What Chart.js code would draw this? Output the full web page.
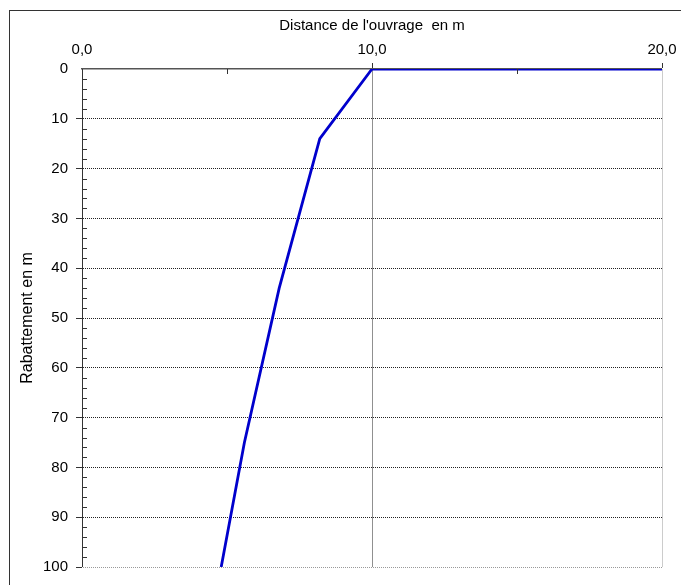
<!DOCTYPE html>
<html>
<head>
<meta charset="utf-8">
<script src="https://cdn.jsdelivr.net/npm/chart.js@4.4.1/dist/chart.umd.min.js"></script>
<style>
  html, body { margin: 0; padding: 0; background: #fff; overflow: hidden; }
  #wrap { position: relative; width: 681px; height: 585px; }
  #frame { position: absolute; left: 9px; top: 10px; width: 700px; height: 600px; border: 1px solid #333; box-sizing: border-box; pointer-events: none; }
  canvas { position: absolute; left: 0; top: 0; }
</style>
</head>
<body>
<div id="wrap">
  <canvas id="c" width="681" height="585"></canvas>
  <div id="frame"></div>
</div>
<script>
// Data
const distance = [20, 10, 8.2, 6.8, 5.6, 4.8];      // Distance de l'ouvrage (m)
const rabattement = [0, 0, 14, 44, 75, 100];          // Rabattement (m)
const xTicks = [0, 10, 20];
const yTicks = [0, 10, 20, 30, 40, 50, 60, 70, 80, 90, 100];
const xMinor = [5, 15];
const yMinor = [2,4,6,8,12,14,16,18,22,24,26,28,32,34,36,38,42,44,46,48,52,54,56,58,62,64,66,68,72,74,76,78,82,84,86,88,92,94,96,98];

const FONT = 'Liberation Sans, Arial, sans-serif';

const minorTicks = {
  id: 'minorTicks',
  afterDraw(chart) {
    const ctx = chart.ctx;
    const xs = chart.scales.x, ys = chart.scales.y;
    const a = chart.chartArea;
    ctx.save();
    ctx.strokeStyle = '#333';
    ctx.lineWidth = 1;
    ctx.beginPath();
    yMinor.forEach(v => {
      const py = Math.round(ys.getPixelForValue(v)) + 0.5;
      ctx.moveTo(a.left, py); ctx.lineTo(a.left + 5, py);
    });
    xMinor.forEach(v => {
      const px = Math.round(xs.getPixelForValue(v)) + 0.5;
      ctx.moveTo(px, a.top); ctx.lineTo(px, a.top + 5);
    });
    ctx.stroke();
    ctx.restore();
  }
};

new Chart(document.getElementById('c'), {
  type: 'line',
  data: {
    datasets: [{
      data: distance.map((d, i) => ({ x: d, y: rabattement[i] })),
      borderColor: '#0000CC',
      borderWidth: 2.8,
      pointRadius: 0,
      tension: 0,
      fill: false
    }]
  },
  options: {
    responsive: false,
    animation: false,
    layout: { padding: { left: 0, top: 0, right: 19, bottom: 18 } },
    plugins: { legend: { display: false }, tooltip: { enabled: false } },
    scales: {
      x: {
        type: 'linear',
        position: 'top',
        min: 0, max: 20,
        afterBuildTicks: s => { s.ticks = xTicks.map(v => ({ value: v })); },
        afterFit: s => { s.height = 69; },
        ticks: {
          color: '#000',
          font: { family: FONT, size: 15 },
          padding: 4,
          maxRotation: 0,
          callback: v => v.toFixed(1).replace('.', ',')
        },
        grid: {
          color: ctx => (ctx.tick && ctx.tick.value === 20) ? '#999' : '#222',
          lineWidth: ctx => (ctx.tick && ctx.tick.value === 0) ? 0 : 1,
          tickLength: 6,
          tickColor: '#333',
          tickBorderDash: []
        },
        border: { display: true, color: '#555', width: 1.5, dash: [1, 1] },
        title: {
          display: true,
          text: "Distance de l'ouvrage  en m",
          color: '#000',
          font: { family: FONT, size: 15 },
          padding: { top: 17, bottom: 0 }
        }
      },
      y: {
        type: 'linear',
        reverse: true,
        min: 0, max: 100,
        afterBuildTicks: s => { s.ticks = yTicks.map(v => ({ value: v })); },
        afterFit: s => { s.width = 82; },
        ticks: {
          color: '#000',
          font: { family: FONT, size: 15 },
          padding: 8,
          callback: v => String(v)
        },
        grid: {
          color: ctx => (ctx.tick && ctx.tick.value === 100) ? '#999' : '#222',
          lineWidth: ctx => (ctx.tick && ctx.tick.value === 0) ? 0 : 1,
          tickLength: 6,
          tickColor: '#333',
          tickBorderDash: []
        },
        border: { display: true, color: '#333', width: 1, dash: [1, 1] },
        title: {
          display: true,
          text: 'Rabattement en m',
          color: '#000',
          font: { family: FONT, size: 16 },
          padding: { top: 18, bottom: 0 }
        }
      }
    }
  },
  plugins: [minorTicks]
});
</script>
</body>
</html>
